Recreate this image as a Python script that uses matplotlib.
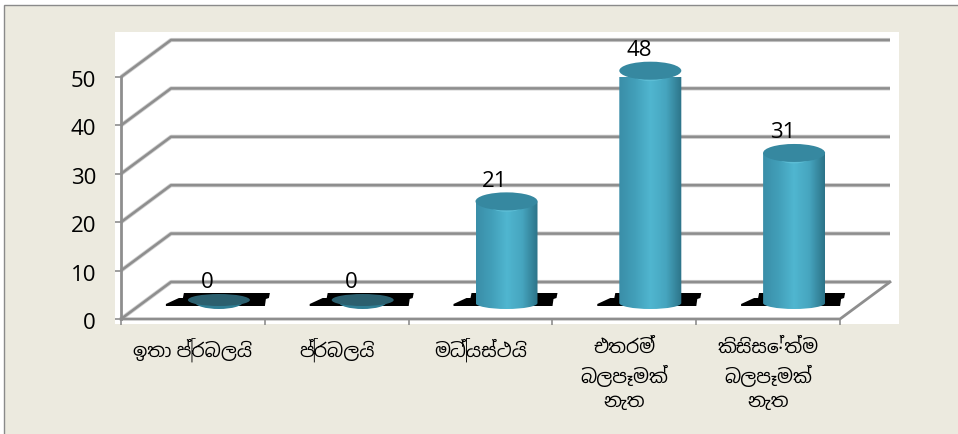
import numpy as np
import matplotlib
matplotlib.use('Agg')
import matplotlib.pyplot as plt
from matplotlib import font_manager as fm
from matplotlib.patches import Ellipse, Polygon, Rectangle, PathPatch
from matplotlib.path import Path
from matplotlib.colors import LinearSegmentedColormap
from matplotlib.transforms import ScaledTranslation

categories = ['ඉතා ප්‍රබලයි', 'ප්‍රබලයි', 'මධ්‍යස්ථයි', 'එතරම්\nබලපෑමක්\nනැත', 'කිසිසේත්ම\nබලපෑමක්\nනැත']
values = [0, 0, 21, 48, 31]
y_ticks = [0, 10, 20, 30, 40, 50]

names = sorted({f.name for f in fm.fontManager.ttflist})
sinhala = [n for n in names if 'Sinhala' in n or 'Iskoola' in n or 'Lohit' in n]
label_fonts = sinhala + ['Open Sans', 'DejaVu Sans']

BG = '#eceadf'
GRID = '#8e8e8e'

# size of one pixel in data units, and the depth of the 3d box
PX = 1 / 143.8
PY = 1 / 4.84
DX = 50 * PX
DY = 37 * PY

fig = plt.figure(figsize=(9.58, 4.34), dpi=100, facecolor='white')

# page background with the top and left border
bg = fig.add_axes([0, 0, 1, 1], zorder=0)
bg.set_xlim(0, 958)
bg.set_ylim(434, 0)
bg.axis('off')
bg.add_patch(Rectangle((4.5, 4.5), 960, 440, fc=BG, ec='#8a8a8a', lw=1))
bg.add_patch(Rectangle((115, 32), 784, 292, fc='white', ec='none'))

ax = fig.add_axes([121 / 958, (434 - 319) / 434, 719 / 958, 242 / 434], zorder=1)
ax.patch.set_alpha(0)
ax.set_xlim(0, 5)
ax.set_ylim(0, 50)
for s in ax.spines.values():
    s.set_visible(False)

# walls and gridlines
for v in y_ticks:
    xs = [0, DX, 5 + DX]
    ys = [v, v + DY, v + DY]
    ax.plot(xs, ys, color='#cfcfcf', lw=3, clip_on=False, zorder=1, solid_capstyle='butt')
    ax.plot(xs, ys, color=GRID, lw=1.8, clip_on=False, zorder=1.1, solid_capstyle='butt')
ax.plot([0, 0], [0, 50], color=GRID, lw=2, clip_on=False, zorder=1.2)
ax.plot([0, 5, 5 + DX], [0, 0, DY], color=GRID, lw=2, clip_on=False, zorder=1.2)

cmap = LinearSegmentedColormap.from_list('cyl', ['#3a8ea8', '#429fb9', '#50b6d0', '#46a5bf', '#2c7388'])
grad = np.linspace(0, 1, 128).reshape(1, -1)

HALF_W = 31 * PX
HALF_H = 9 * PY
LOW_H = 6 * PY
BASE_Y = 16 * PY
# black floor shadow outline, pixel offsets from the base centre
SHADOW = [(-53, -3), (-53, -1), (-40, 5), (-36, 5), (-35, 10), (51, 10), (50, 5), (47, 4), (46, -3)]

for i, v in enumerate(values):
    xc = i + 0.5 + DX / 2 + 1 * PX
    ax.add_patch(Polygon([(xc + a * PX, BASE_Y + b * PY) for a, b in SHADOW],
                         fc='black', ec='none', zorder=2, clip_on=False))

    top = BASE_Y + v
    if v == 0:
        ax.add_patch(Ellipse((xc, BASE_Y + 1 * PY), 48 * PX, 14 * PY, fc='#2f7f95', ec='none', zorder=3.5, clip_on=False))
        ax.add_patch(Ellipse((xc, BASE_Y + 3 * PY), 2 * HALF_W, 12 * PY, fc='#2b5f6e', ec='none', zorder=4, clip_on=False))
    else:
        kappa = 0.5523
        verts = [(xc - HALF_W, top), (xc - HALF_W, BASE_Y),
                 (xc - HALF_W, BASE_Y - kappa * LOW_H), (xc - kappa * HALF_W, BASE_Y - LOW_H), (xc, BASE_Y - LOW_H),
                 (xc + kappa * HALF_W, BASE_Y - LOW_H), (xc + HALF_W, BASE_Y - kappa * LOW_H), (xc + HALF_W, BASE_Y),
                 (xc + HALF_W, top), (xc - HALF_W, top)]
        codes = [Path.MOVETO, Path.LINETO, Path.CURVE4, Path.CURVE4, Path.CURVE4,
                 Path.CURVE4, Path.CURVE4, Path.CURVE4, Path.LINETO, Path.CLOSEPOLY]
        body = PathPatch(Path(verts, codes), fc='none', ec='none', transform=ax.transData)
        ax.add_patch(body)
        im = ax.imshow(grad, cmap=cmap, aspect='auto', zorder=3,
                       extent=(xc - HALF_W, xc + HALF_W, BASE_Y - LOW_H, top + 1))
        im.set_clip_path(body)
        ax.add_patch(Ellipse((xc, top - 1.5 * PY), 38 * PX, 2 * HALF_H, fc='#5cbdd5', ec='none', zorder=3.5, clip_on=False))
        ax.add_patch(Ellipse((xc, top), 2 * HALF_W, 2 * HALF_H, fc='#3688a0', ec='none', zorder=4, clip_on=False))

    ax.annotate(str(v), (xc, top), xytext=(-11.5, 20), textcoords='offset pixels',
                ha='center', va='center', fontsize=16, family='Open Sans', color='black', zorder=6,
                annotation_clip=False)

ax.set_yticks(y_ticks)
ax.set_xticks(range(6))
ax.set_xticklabels([])
ax.set_xticks(np.arange(5) + 0.5, categories, minor=True)
ax.tick_params(axis='y', length=4, width=1.2, color=GRID, pad=6, labelsize=16)
ax.tick_params(axis='x', which='major', length=4, width=1.2, color=GRID)
ax.tick_params(axis='x', which='minor', length=0, pad=14, labelsize=13.5)
for t in ax.get_yticklabels():
    t.set_family('Open Sans')
    t.set_transform(t.get_transform() + ScaledTranslation(-11 / 100, -2 / 100, fig.dpi_scale_trans))
for t in ax.get_xticklabels(minor=True):
    t.set_family(label_fonts)
    t.set_linespacing(1.45)

fig.savefig('out.png', dpi=100)
